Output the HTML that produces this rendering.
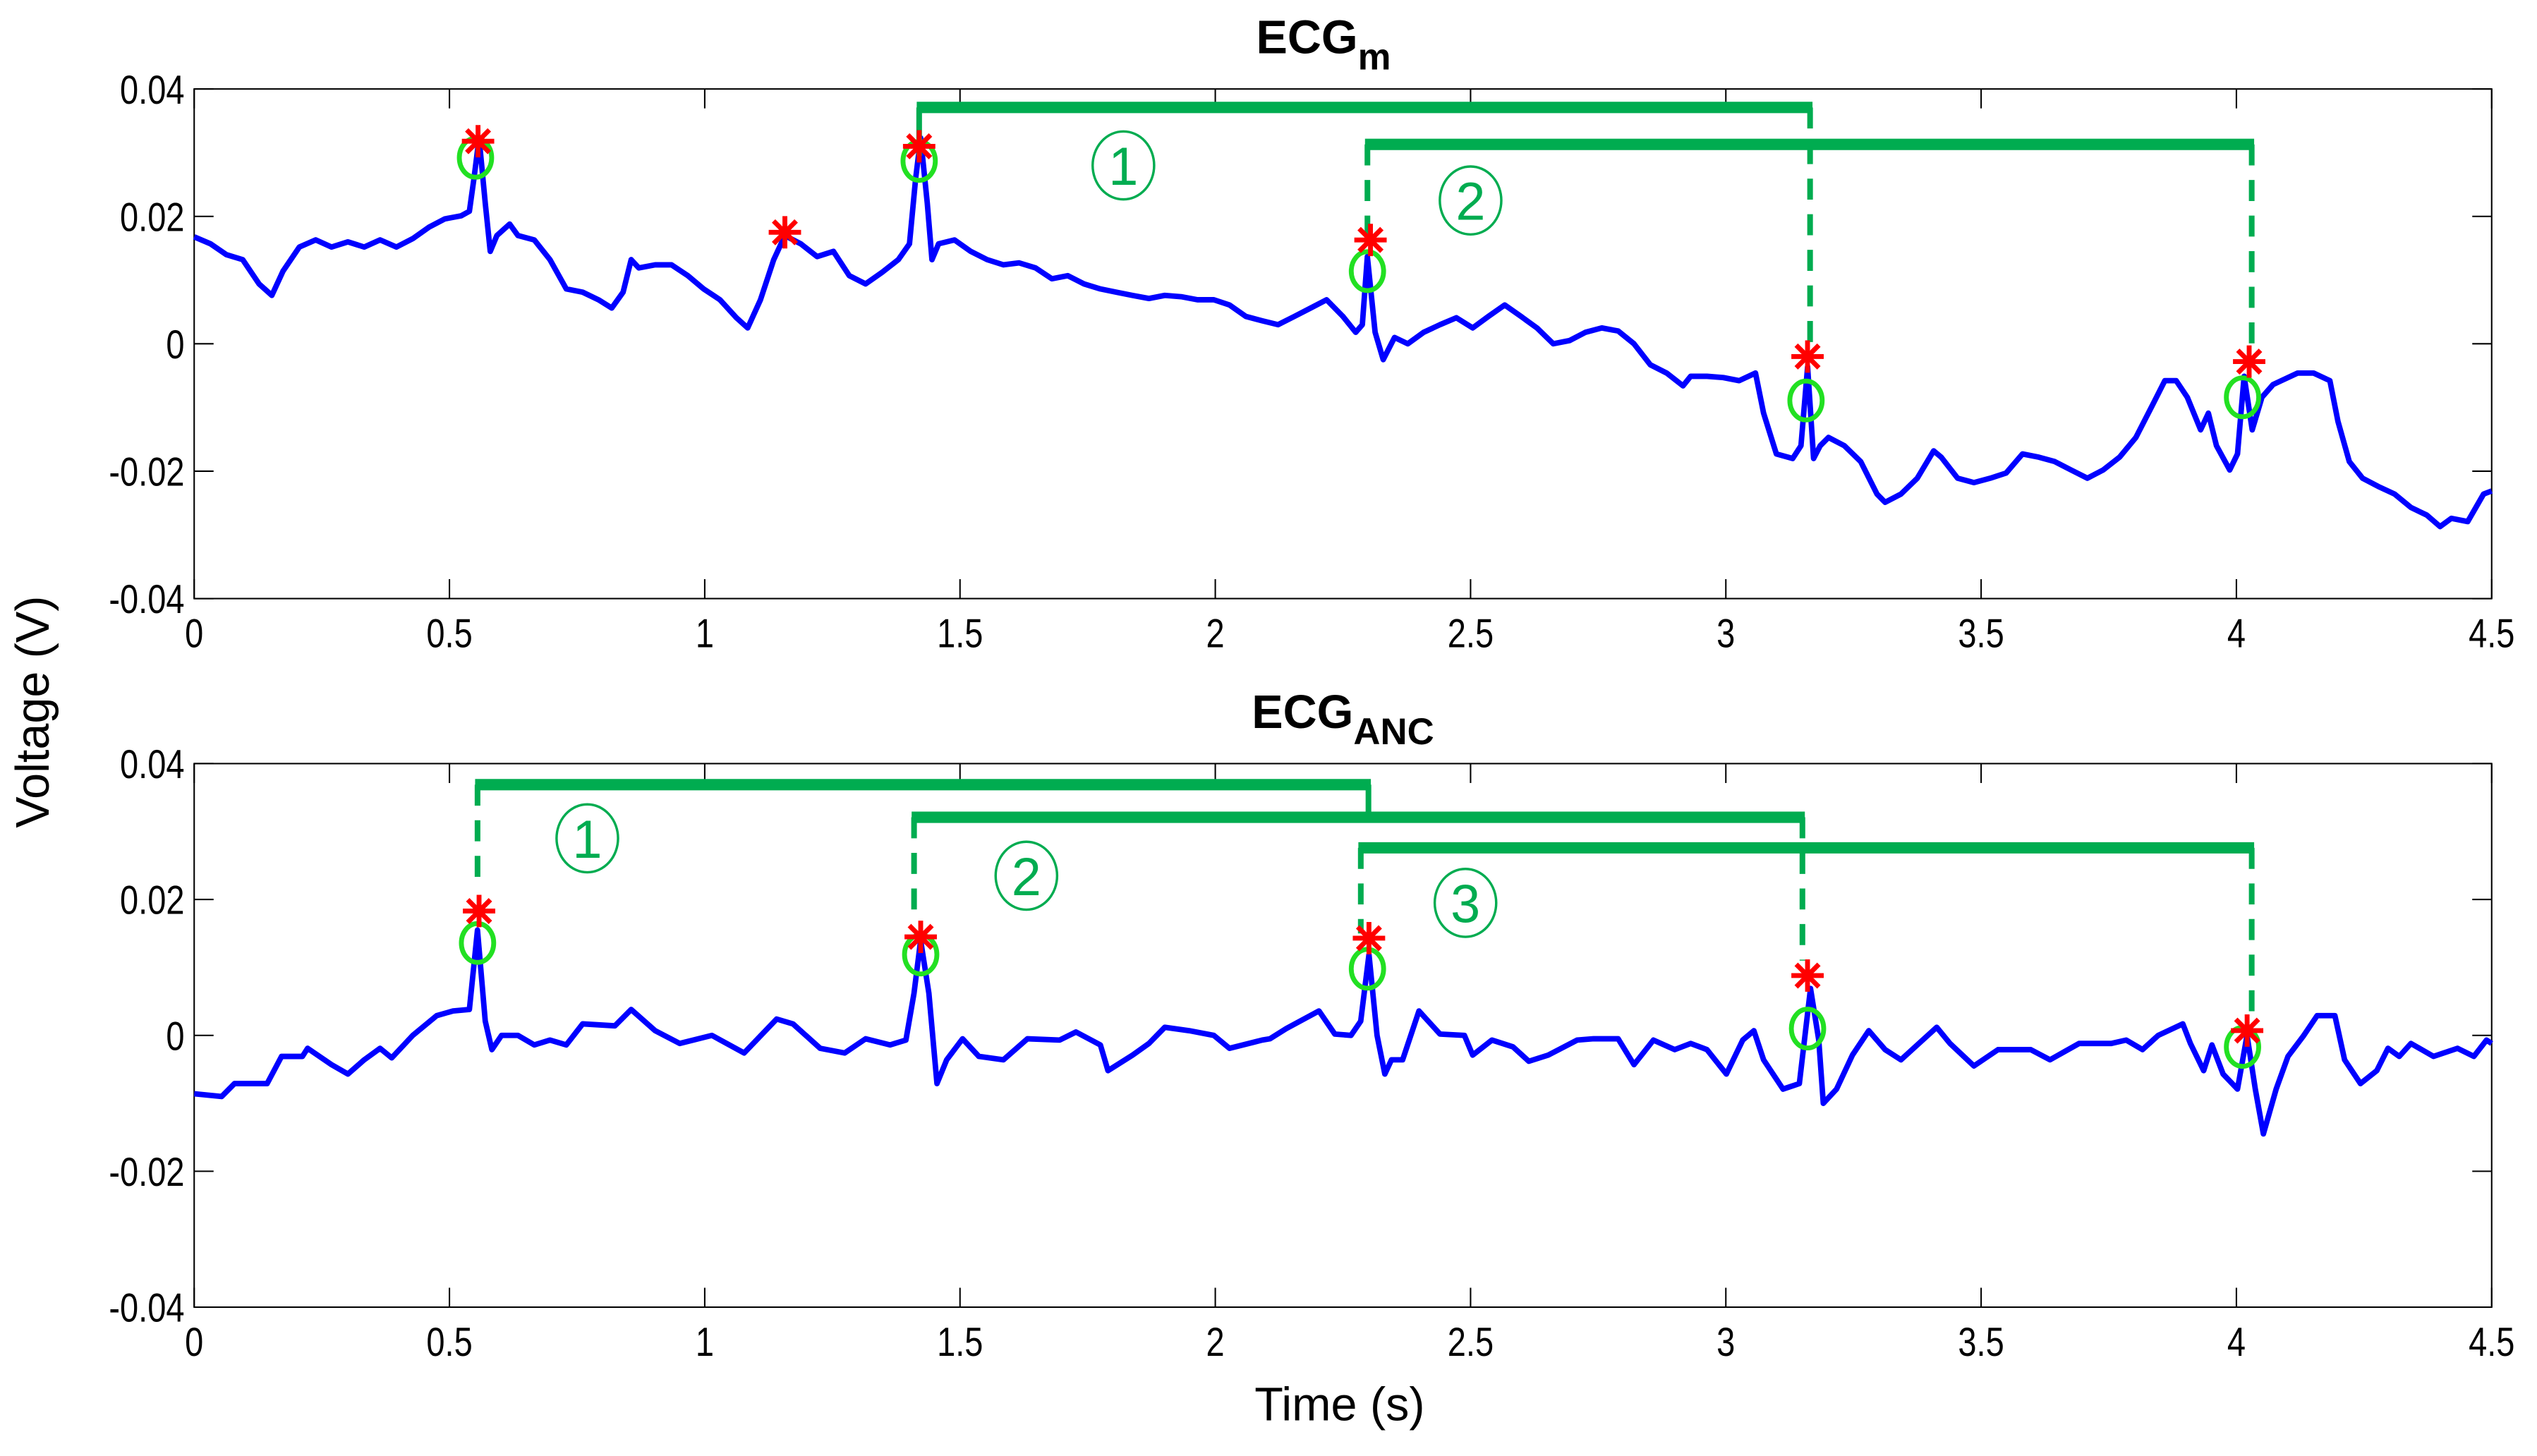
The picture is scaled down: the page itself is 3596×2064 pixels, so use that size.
<!DOCTYPE html>
<html><head><meta charset="utf-8"><style>
html,body{margin:0;padding:0;background:#fff}
svg{display:block}
text{font-family:"Liberation Sans",Arial,sans-serif}
</style></head><body>
<svg id="chart" width="3596" height="2064" viewBox="0 0 1568 900" xmlns="http://www.w3.org/2000/svg">
<rect width="1568" height="900" fill="#fff"/>
<g id="root"></g>
</svg>
<script>
// ---- Data ----
const xTicks = [0, 0.5, 1, 1.5, 2, 2.5, 3, 3.5, 4, 4.5];
const xTickLabels = ["0","0.5","1","1.5","2","2.5","3","3.5","4","4.5"];
const yTicks = [0.04, 0.02, 0, -0.02, -0.04];
const yTickLabels = ["0.04","0.02","0","-0.02","-0.04"];

const topTimes = [0,.032,.063,.095,.127,.152,.174,.206,.238,.269,.301,.333,.364,.396,.428,.460,.491,.523,.539,.548,.558,.570,.580,.593,.618,.634,.666,.697,.729,.761,.792,.818,.840,.856,.871,.903,.935,.967,.998,1.030,1.062,1.084,1.109,1.135,1.157,1.188,1.220,1.252,1.283,1.315,1.347,1.379,1.401,1.413,1.423,1.436,1.445,1.458,1.489,1.521,1.553,1.585,1.616,1.648,1.680,1.711,1.743,1.775,1.806,1.838,1.870,1.901,1.933,1.965,1.997,2.028,2.060,2.092,2.123,2.155,2.187,2.218,2.250,2.275,2.288,2.298,2.313,2.329,2.351,2.377,2.408,2.440,2.472,2.504,2.535,2.567,2.599,2.630,2.662,2.694,2.725,2.757,2.789,2.820,2.852,2.884,2.916,2.931,2.963,2.995,3.026,3.058,3.074,3.099,3.131,3.147,3.160,3.172,3.185,3.201,3.232,3.264,3.296,3.312,3.343,3.375,3.407,3.422,3.454,3.486,3.518,3.549,3.581,3.613,3.644,3.676,3.708,3.739,3.771,3.803,3.835,3.860,3.882,3.904,3.930,3.945,3.961,3.987,4.002,4.015,4.031,4.050,4.072,4.088,4.120,4.151,4.183,4.199,4.221,4.247,4.278,4.310,4.342,4.373,4.399,4.421,4.453,4.484,4.500];
const topValues = [.0168,.0157,.0140,.0132,.0094,.0076,.0114,.0152,.0163,.0152,.0160,.0152,.0163,.0152,.0165,.0183,.0196,.0201,.0208,.0259,.0323,.0221,.0145,.0170,.0188,.0170,.0163,.0132,.0086,.0081,.0069,.0056,.0081,.0132,.0119,.0124,.0124,.0107,.0086,.0069,.0041,.0025,.0069,.0132,.0170,.0157,.0137,.0145,.0107,.0094,.0112,.0132,.0157,.0259,.0323,.0221,.0132,.0157,.0163,.0145,.0132,.0124,.0127,.0119,.0102,.0107,.0094,.0086,.0081,.0076,.0071,.0076,.0074,.0069,.0069,.0061,.0043,.0036,.0030,.0043,.0056,.0069,.0043,.0018,.0030,.0137,.0018,-.0025,.0010,0,.0018,.0030,.0041,.0025,.0043,.0061,.0043,.0025,0,.0005,.0018,.0025,.0020,0,-.0033,-.0046,-.0066,-.0051,-.0051,-.0053,-.0058,-.0046,-.0109,-.0173,-.0180,-.0160,-.0036,-.0180,-.0160,-.0147,-.0160,-.0185,-.0236,-.0249,-.0236,-.0211,-.0168,-.0178,-.0211,-.0218,-.0211,-.0203,-.0173,-.0178,-.0185,-.0198,-.0211,-.0198,-.0178,-.0147,-.0097,-.0058,-.0058,-.0084,-.0135,-.0109,-.0160,-.0198,-.0173,-.0051,-.0135,-.0084,-.0064,-.0058,-.0046,-.0046,-.0058,-.0122,-.0185,-.0211,-.0224,-.0236,-.0257,-.0269,-.0287,-.0274,-.0279,-.0236,-.0231];
const topStarT = [.556,1.157,1.420,2.304,3.160,4.025];
const topStarV = [.0318,.0175,.0310,.0163,-.0020,-.0028];
const topCircT = [.551,1.420,2.298,3.157,4.012];
const topCircV = [.0292,.0287,.0114,-.0089,-.0084];
const topBrStart = [1.420, 2.298];
const topBrEnd = [3.165, 4.030];
const topBrLevel = [.0371, .0313];
const topBrStartEnd = [.0295, .0170];
const topBrEndEnd = [-.0015, -.0025];
const topBrLabelT = [1.82, 2.50];
const topBrLabelV = [.0280, .0225];

const botTimes = [0,.054,.079,.143,.171,.212,.222,.269,.301,.333,.364,.387,.428,.475,.507,.539,.555,.570,.583,.602,.634,.666,.697,.729,.761,.824,.856,.903,.951,1.014,1.077,1.141,1.173,1.226,1.274,1.315,1.363,1.394,1.410,1.423,1.439,1.455,1.474,1.505,1.537,1.585,1.632,1.695,1.727,1.775,1.790,1.838,1.870,1.901,1.949,1.997,2.028,2.092,2.107,2.139,2.203,2.234,2.266,2.285,2.301,2.317,2.332,2.345,2.367,2.399,2.440,2.488,2.504,2.542,2.583,2.614,2.652,2.709,2.741,2.789,2.820,2.858,2.900,2.931,2.963,3.001,3.033,3.055,3.074,3.112,3.144,3.166,3.182,3.191,3.217,3.248,3.280,3.312,3.343,3.375,3.413,3.439,3.486,3.533,3.597,3.635,3.692,3.755,3.784,3.816,3.847,3.895,3.910,3.936,3.952,3.974,4.002,4.021,4.037,4.053,4.078,4.101,4.132,4.158,4.193,4.212,4.243,4.275,4.297,4.319,4.342,4.386,4.433,4.465,4.490,4.500];
const botValues = [-.0086,-.0090,-.0071,-.0071,-.0031,-.0031,-.0019,-.0043,-.0057,-.0036,-.0019,-.0033,0,.0029,.0036,.0038,.0155,.0021,-.0021,0,0,-.0014,-.0007,-.0014,.0017,.0014,.0038,.0007,-.0012,0,-.0026,.0024,.0017,-.0019,-.0026,-.0005,-.0014,-.0007,.0062,.0140,.0062,-.0071,-.0036,-.0005,-.0031,-.0036,-.0005,-.0007,.0005,-.0014,-.0052,-.0029,-.0012,.0012,.0007,0,-.0019,-.0007,-.0005,.0010,.0036,.0002,0,.0021,.0119,0,-.0057,-.0036,-.0036,.0036,.0002,0,-.0029,-.0007,-.0017,-.0038,-.0029,-.0007,-.0005,-.0005,-.0043,-.0007,-.0021,-.0012,-.0021,-.0057,-.0007,.0007,-.0036,-.0079,-.0071,.0069,-.0007,-.0100,-.0079,-.0029,.0007,-.0021,-.0036,-.0014,.0012,-.0012,-.0045,-.0021,-.0021,-.0036,-.0012,-.0012,-.0007,-.0021,0,.0017,-.0012,-.0052,-.0014,-.0057,-.0079,0,-.0079,-.0145,-.0079,-.0031,0,.0029,.0029,-.0036,-.0071,-.0052,-.0019,-.0031,-.0012,-.0031,-.0019,-.0031,-.0007,-.0012];
const botStarT = [.558,1.423,2.301,3.160,4.021];
const botStarV = [.0183,.0145,.0143,.0088,.0007];
const botCircT = [.555,1.423,2.298,3.160,4.012];
const botCircV = [.0136,.0119,.0098,.0010,-.0017];
const botBrStart = [.555, 1.410, 2.285];
const botBrEnd = [2.300, 3.150, 4.030];
const botBrLevel = [.0369, .0321, .0276];
const botBrStartEnd = [.0215, .0170, .0150];
const botBrEndEnd = [.0325, .0110, .0020];
const botBrLabelT = [0.77, 1.63, 2.49];
const botBrLabelV = [.0290, .0235, .0195];
const brLabels = ["1","2","3"];

// ---- Drawing ----
const NS = "http://www.w3.org/2000/svg";
const root = document.getElementById('root');
function el(tag, attrs, parent) {
  const e = document.createElementNS(NS, tag);
  for (const k in attrs) e.setAttribute(k, attrs[k]);
  (parent || root).appendChild(e);
  return e;
}
const X0 = 120, X1 = 1540;
function xs(t) { return X0 + (t / 4.5) * (X1 - X0); }
function makeY(top, bottom) { return v => top + (0.04 - v) / 0.08 * (bottom - top); }

const GREEN = "#00ac50";
const panels = [
  {name:"top", top:55, bottom:370, times:topTimes, vals:topValues, st:topStarT, sv:topStarV, ct:topCircT, cv:topCircV,
   bs:topBrStart, be:topBrEnd, bl:topBrLevel, bse:topBrStartEnd, bee:topBrEndEnd, lt:topBrLabelT, lv:topBrLabelV, solidLeft:[true,false], solidRight:[false,false]},
  {name:"bottom", top:472, bottom:808, times:botTimes, vals:botValues, st:botStarT, sv:botStarV, ct:botCircT, cv:botCircV,
   bs:botBrStart, be:botBrEnd, bl:botBrLevel, bse:botBrStartEnd, bee:botBrEndEnd, lt:botBrLabelT, lv:botBrLabelV, solidLeft:[false,false,false], solidRight:[true,false,false]}
];

panels.forEach(p => {
  const ys = makeY(p.top, p.bottom);
  const g = el('g', {});
  
  
  const box = el('rect', {x:X0, y:p.top, width:X1-X0, height:p.bottom-p.top, fill:'none', stroke:'#000', 'stroke-width':0.9}, g);
  
  
  xTicks.forEach((t, i) => {
    const x = xs(t);
    el('line', {x1:x, y1:p.bottom, x2:x, y2:p.bottom-12, stroke:'#000', 'stroke-width':0.9}, g);
    el('line', {x1:x, y1:p.top, x2:x, y2:p.top+12, stroke:'#000', 'stroke-width':0.9}, g);
    const tx = el('text', {transform:'translate(' + x + ',' + (p.bottom+30) + ') scale(0.82,1)', 'text-anchor':'middle', 'font-size':25}, g);
    tx.textContent = xTickLabels[i];
    
    
  });
  yTicks.forEach((v, i) => {
    const y = ys(v);
    el('line', {x1:X0, y1:y, x2:X0+12, y2:y, stroke:'#000', 'stroke-width':0.9}, g);
    el('line', {x1:X1, y1:y, x2:X1-12, y2:y, stroke:'#000', 'stroke-width':0.9}, g);
    const tx = el('text', {transform:'translate(' + (X0-6) + ',' + (y+9) + ') scale(0.82,1)', 'text-anchor':'end', 'font-size':25}, g);
    tx.textContent = yTickLabels[i];
    
    
  });
  let d = '';
  p.times.forEach((t, i) => { d += (i ? 'L' : 'M') + xs(t).toFixed(1) + ' ' + ys(p.vals[i]).toFixed(1); });
  const line = el('path', {d:d, fill:'none', stroke:'#0000ff', 'stroke-width':3.4, 'stroke-linejoin':'round'}, g);
  
  
  p.bs.forEach((s, i) => {
    const xa = xs(s), xb = xs(p.be[i]), yl = ys(p.bl[i]);
    const bg = el('g', {}, g);
    
    
    el('line', {x1:xa-1.5, y1:yl, x2:xb+1.5, y2:yl, stroke:GREEN, 'stroke-width':7}, bg);
    const la = {x1:xa, y1:yl, x2:xa, y2:ys(p.bse[i]), stroke:GREEN, 'stroke-width':3.5};
    if (!p.solidLeft[i]) la['stroke-dasharray'] = '13 9';
    el('line', la, bg);
    const lb = {x1:xb, y1:yl, x2:xb, y2:ys(p.bee[i]), stroke:GREEN, 'stroke-width':3.5};
    if (!p.solidRight[i]) lb['stroke-dasharray'] = '13 9';
    el('line', lb, bg);
    const cx = xs(p.lt[i]), cy = ys(p.lv[i]);
    el('ellipse', {cx:cx, cy:cy, rx:19, ry:21, fill:'none', stroke:GREEN, 'stroke-width':1.5}, bg);
    const lt = el('text', {x:cx, y:cy+12, 'text-anchor':'middle', 'font-size':33, fill:GREEN}, bg);
    lt.textContent = brLabels[i];
    
    
  });
  p.ct.forEach((t, i) => {
    const c = el('ellipse', {cx:xs(t), cy:ys(p.cv[i]), rx:10, ry:12, fill:'none', stroke:'#22e022', 'stroke-width':3}, g);
    
    
  });
  p.st.forEach((t, i) => {
    const x = xs(t), y = ys(p.sv[i]), r = 10;
    const sg = el('g', {stroke:'#ff0000', 'stroke-width':3}, g);
    
    
    el('line', {x1:x-r, y1:y, x2:x+r, y2:y}, sg);
    el('line', {x1:x, y1:y-r, x2:x, y2:y+r}, sg);
    el('line', {x1:x-7, y1:y-7, x2:x+7, y2:y+7}, sg);
    el('line', {x1:x-7, y1:y+7, x2:x+7, y2:y-7}, sg);
  });
});
</script>
<svg style="position:absolute;left:0;top:0" width="3596" height="2064" viewBox="0 0 1568 900" xmlns="http://www.w3.org/2000/svg">
  <text x="818" y="33" text-anchor="middle" font-size="29" font-weight="bold" font-family="Liberation Sans, sans-serif">ECG<tspan font-size="23" dy="10">m</tspan></text>
  <text x="830" y="450" text-anchor="middle" font-size="29" font-weight="bold" font-family="Liberation Sans, sans-serif">ECG<tspan font-size="23" dy="10">ANC</tspan></text>
  <text transform="translate(30,440) rotate(-90)" text-anchor="middle" font-size="29" font-family="Liberation Sans, sans-serif">Voltage (V)</text>
  <text x="828" y="878" text-anchor="middle" font-size="29" font-family="Liberation Sans, sans-serif">Time (s)</text>
</svg>
</body></html>
